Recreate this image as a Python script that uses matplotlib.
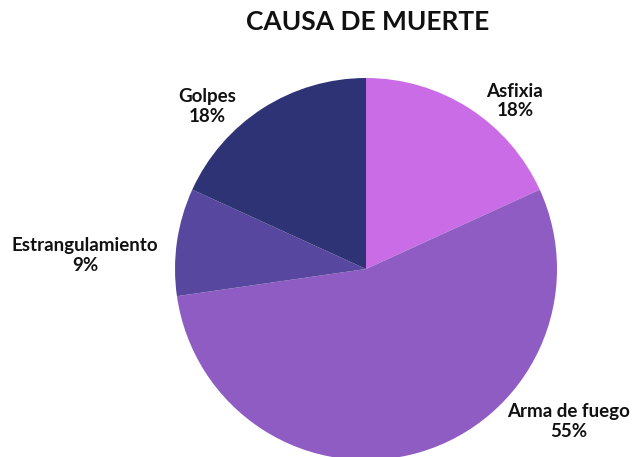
import matplotlib as mpl
import matplotlib.pyplot as plt

mpl.use('Agg')

causas = ["Asfixia", "Arma de fuego", "Estrangulamiento", "Golpes"]
casos = [2, 6, 1, 2]
colores = ["#C96CE6", "#8F5CC4", "#58479E", "#2E3375"]

# posiciones de las etiquetas (en unidades del radio)
pos_etiquetas = [(0.78, 0.88), (1.06, -0.80), (-1.47, 0.07), (-0.83, 0.85)]

plt.rcParams['font.family'] = ['Lato', 'DejaVu Sans']

fig = plt.figure(figsize=(6.41, 4.57), dpi=100)
cx, cy, r = 366, 457 - 269, 191
ax = fig.add_axes([(cx - r) / 641, (cy - r) / 457, 2 * r / 641, 2 * r / 457])

ax.pie(casos, colors=colores, startangle=90, counterclock=False, radius=1,
       wedgeprops=dict(linewidth=0))
ax.set_xlim(-1, 1)
ax.set_ylim(-1, 1)
ax.set_aspect('equal')
ax.axis('off')

total = sum(casos)
for causa, v, (x, y) in zip(causas, casos, pos_etiquetas):
    ax.text(x, y, "{}\n{:.0f}%".format(causa, 100 * v / total),
            ha='center', va='center', fontsize=13.5, fontweight='bold',
            color='#111111', linespacing=1.2, clip_on=False)

fig.text(368 / 641, 1 - 22 / 457, "CAUSA DE MUERTE", ha='center', va='center',
         fontsize=19, fontweight='bold', color='#111111')

plt.savefig("out.png", dpi=100)
